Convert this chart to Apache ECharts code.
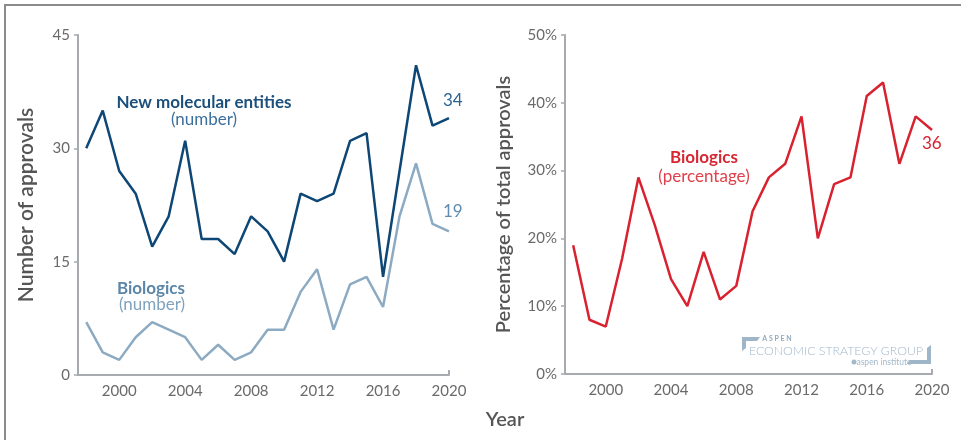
<!DOCTYPE html>
<html>
<head>
<meta charset="utf-8">
<script src="https://cdn.jsdelivr.net/npm/echarts@6/dist/echarts.min.js"></script>
<style>
html,body{margin:0;padding:0;background:#fff;}
#c{width:961px;height:440px;}
</style>
</head>
<body>
<div id="c"></div>
<script>
const years = [1998,1999,2000,2001,2002,2003,2004,2005,2006,2007,2008,2009,2010,2011,2012,2013,2014,2015,2016,2017,2018,2019,2020];
const nmeCount = [30,35,27,24,17,21,31,18,18,16,21,19,15,24,23,24,31,32,13,27,41,33,34];
const bioCount = [7,3,2,5,7,6,5,2,4,2,3,6,6,11,14,6,12,13,9,21,28,20,19];
const bioPct = [19,8,7,17,29,22,14,10,18,11,13,24,29,31,38,20,28,29,41,43,31,38,36];
const xTicks = [2000,2004,2008,2012,2016,2020];
const leftYTicks = [0,15,30,45];
const rightYTicks = [0,10,20,30,40,50];

const FONT = 'Lato, "Open Sans", sans-serif';
const NAVY = '#0e4775';
const LIGHT = '#8cabc3';
const RED = '#d9222f';
const AXIS = '#a7abaf';
const TXT = '#6a6a6a';

function pairs(v){ return years.map((y,i)=>[y, v[i]]); }

function xAxis(idx){
  return {
    type:'value', gridIndex: idx, min:1997.5, max:2020,
    axisLine:{show:true, lineStyle:{color:AXIS, width:2}},
    axisTick:{show:true, inside:true, length:5, customValues:[2020], lineStyle:{color:AXIS, width:2}},
    axisLabel:{customValues:xTicks, color:TXT, fontSize:15, fontFamily:FONT, margin:9, formatter:v=>String(v)},
    splitLine:{show:false}
  };
}

const chart = echarts.init(document.getElementById('c'));
chart.setOption({
  animation:false,
  textStyle:{fontFamily:FONT},
  grid:[
    {left:78, right:512, top:35, bottom:65},
    {left:565, right:29, top:35, bottom:66}
  ],
  xAxis:[xAxis(0), xAxis(1)],
  yAxis:[
    {type:'value', gridIndex:0, min:0, max:45, interval:15,
     name:'Number of approvals', nameLocation:'middle', nameGap:41,
     nameTextStyle:{fontSize:21, fontWeight:600, color:'#555', fontFamily:FONT},
     axisLine:{show:true, lineStyle:{color:AXIS, width:2}},
     axisTick:{show:true, length:4, customValues:leftYTicks, lineStyle:{color:AXIS, width:1.5}},
     axisLabel:{color:TXT, fontSize:15, fontFamily:FONT, margin:8},
     splitLine:{show:false}},
    {type:'value', gridIndex:1, min:0, max:50, interval:10,
     name:'Percentage of total approvals', nameLocation:'middle', nameGap:51,
     nameTextStyle:{fontSize:20, fontWeight:600, color:'#555', fontFamily:FONT},
     axisLine:{show:true, lineStyle:{color:AXIS, width:2}},
     axisTick:{show:true, length:4, customValues:rightYTicks, lineStyle:{color:AXIS, width:1.5}},
     axisLabel:{color:TXT, fontSize:15, fontFamily:FONT, margin:8, formatter:'{value}%'},
     splitLine:{show:false}}
  ],
  series:[
    {type:'line', xAxisIndex:0, yAxisIndex:0, data:pairs(bioCount), symbol:'none',
     lineStyle:{color:LIGHT, width:2.5}, z:2,
     endLabel:{show:true, formatter:p=>p.value[1], color:'#5f8cb0', fontSize:17, fontFamily:FONT, offset:[-14,-20]}},
    {type:'line', xAxisIndex:0, yAxisIndex:0, data:pairs(nmeCount), symbol:'none',
     lineStyle:{color:NAVY, width:2.5}, z:3,
     endLabel:{show:true, formatter:p=>p.value[1], color:'#2a6496', fontSize:17, fontFamily:FONT, offset:[-14,-18]}},
    {type:'line', xAxisIndex:1, yAxisIndex:1, data:pairs(bioPct), symbol:'none',
     lineStyle:{color:RED, width:2.5},
     endLabel:{show:true, formatter:p=>p.value[1], color:RED, fontSize:17, fontFamily:FONT, offset:[-18,14]}}
  ],
  graphic:[
    {type:'polyline', shape:{points:[[5,440],[5,5],[961,5]]}, style:{stroke:'#8c8c8c', lineWidth:2, fill:null}},
    {type:'text', x:204, y:103, style:{text:'New molecular entities', fill:'#1c4f7c', font:'bold 17px '+FONT, align:'center', verticalAlign:'middle'}},
    {type:'text', x:204, y:120, style:{text:'(number)', fill:'#3d6f9c', font:'17px '+FONT, align:'center', verticalAlign:'middle'}},
    {type:'text', x:151, y:289, style:{text:'Biologics', fill:'#5b86a8', font:'bold 17px '+FONT, align:'center', verticalAlign:'middle'}},
    {type:'text', x:152, y:305, style:{text:'(number)', fill:'#7fa2bd', font:'17px '+FONT, align:'center', verticalAlign:'middle'}},
    {type:'text', x:704, y:158, style:{text:'Biologics', fill:'#d62733', font:'bold 17px '+FONT, align:'center', verticalAlign:'middle'}},
    {type:'text', x:704, y:177, style:{text:'(percentage)', fill:'#e0404b', font:'17px '+FONT, align:'center', verticalAlign:'middle'}},
    {type:'text', x:505, y:420, style:{text:'Year', fill:'#555', font:'600 20px '+FONT, align:'center', verticalAlign:'middle'}},
    {type:'polyline', shape:{points:[[742,351],[742,337],[760,337],[757,341],[746,341],[746,348]]}, style:{fill:'#9fb6c9', stroke:null}},
    {type:'text', x:777, y:339, style:{text:'A S P E N', fill:'#8fa9be', font:'bold 7px '+FONT, align:'center', verticalAlign:'middle'}},
    {type:'text', x:836, y:351, style:{text:'ECONOMIC STRATEGY GROUP', fill:'#a3b8ca', font:'300 12.3px '+FONT, align:'center', verticalAlign:'middle'}},
    {type:'circle', shape:{cx:854, cy:362, r:2.5}, style:{fill:'#a3b8ca'}},
    {type:'text', x:884, y:362, style:{text:'aspen institute', fill:'#a3b8ca', font:'8.5px '+FONT, align:'center', verticalAlign:'middle'}},
    {type:'polyline', shape:{points:[[931,345],[931,364],[907,364],[910,360],[927,360],[927,348]]}, style:{fill:'#9fb6c9', stroke:null}}
  ]
});
</script>
</body>
</html>
